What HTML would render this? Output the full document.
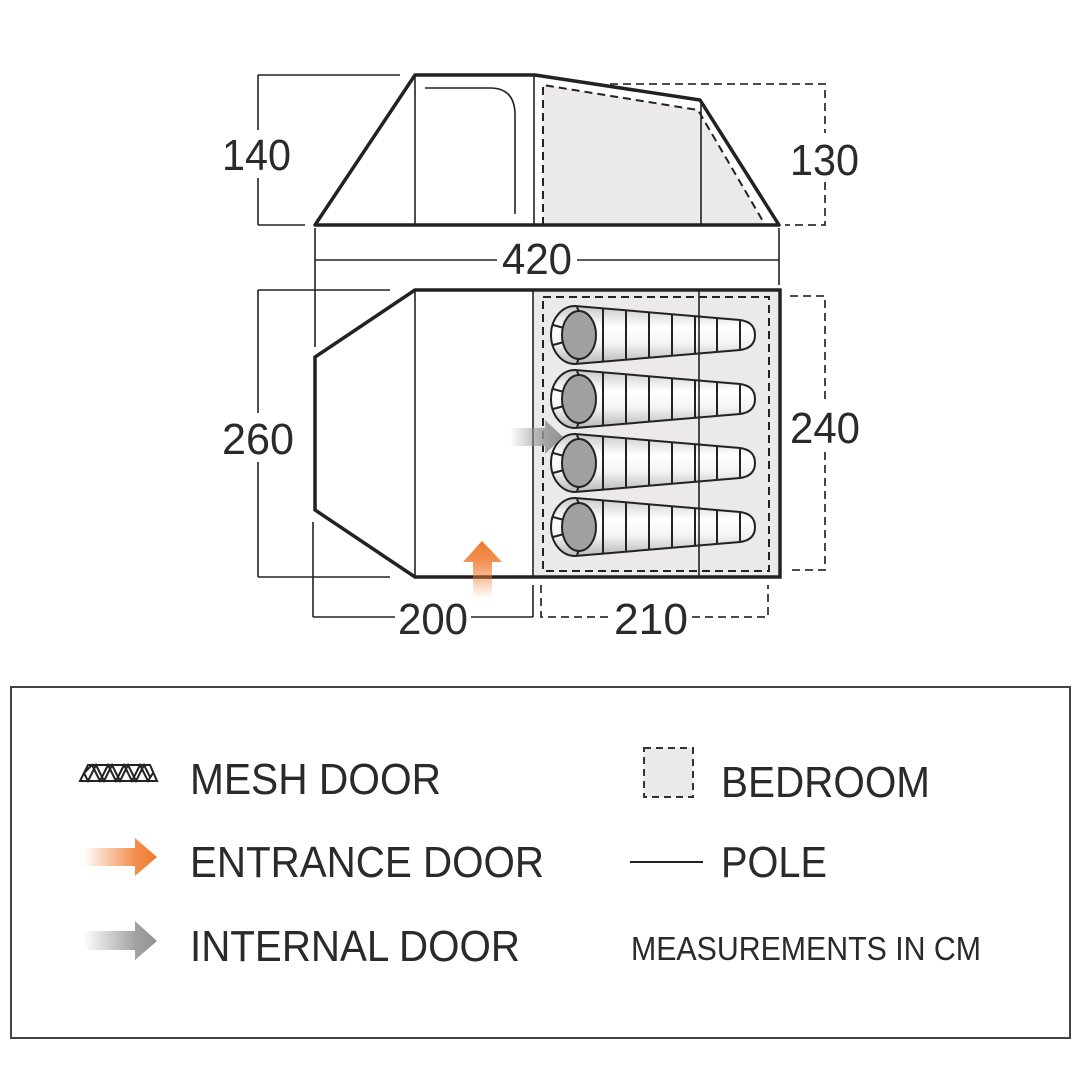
<!DOCTYPE html>
<html><head><meta charset="utf-8"><style>
html,body{margin:0;padding:0;background:#fff;width:1080px;height:1080px;overflow:hidden}
svg text{font-family:"Liberation Sans",sans-serif;fill:#2a2a2a}
</style></head><body>
<svg width="1080" height="1080" viewBox="0 0 1080 1080" xmlns="http://www.w3.org/2000/svg">
<defs>
<linearGradient id="bag" x1="0" y1="0" x2="0" y2="1">
<stop offset="0" stop-color="#c8c8c8"/><stop offset="0.35" stop-color="#fff"/><stop offset="0.65" stop-color="#f4f4f4"/><stop offset="1" stop-color="#b8b8b8"/></linearGradient>
<linearGradient id="orU" x1="0" y1="1" x2="0" y2="0">
<stop offset="0" stop-color="#f07a30" stop-opacity="0"/><stop offset="0.6" stop-color="#f07a30" stop-opacity="0.8"/><stop offset="1" stop-color="#ef7a2e"/></linearGradient>
<linearGradient id="orR" x1="0" y1="0" x2="1" y2="0">
<stop offset="0" stop-color="#f07a30" stop-opacity="0"/><stop offset="0.7" stop-color="#f07a30" stop-opacity="0.85"/><stop offset="1" stop-color="#ef7a2e"/></linearGradient>
<linearGradient id="grR" x1="0" y1="0" x2="1" y2="0">
<stop offset="0" stop-color="#999" stop-opacity="0"/><stop offset="0.7" stop-color="#999" stop-opacity="0.9"/><stop offset="1" stop-color="#909090"/></linearGradient>
<g id="sb">
<path d="M575,-29 L740,-15 Q755,-13 755,0 Q755,13 740,15 L575,29 A24,29 0 0 1 575,-29 Z" fill="url(#bag)" stroke="#222" stroke-width="2"/>
<g stroke="#222" stroke-width="2">
<line x1="603" y1="-26.5" x2="603" y2="26.5"/><line x1="626" y1="-24.5" x2="626" y2="24.5"/>
<line x1="649" y1="-22.5" x2="649" y2="22.5"/><line x1="672" y1="-20.7" x2="672" y2="20.7"/>
<line x1="695" y1="-18.8" x2="695" y2="18.8"/><line x1="717" y1="-17" x2="717" y2="17"/>
<line x1="740" y1="-15" x2="740" y2="15"/>
<line x1="577" y1="-28" x2="579" y2="-23"/><line x1="577" y1="28" x2="579" y2="23"/>
<line x1="553" y1="-10" x2="564" y2="-7"/><line x1="553" y1="10" x2="564" y2="7"/>
</g>
<ellipse cx="579" cy="0" rx="17" ry="24" fill="#a0a0a0" stroke="#222" stroke-width="2"/>
</g>
</defs>

<polygon points="543,85 698,110 765,225 543,225" fill="#ebe9e9"/>
<polyline points="543,225 543,85 698,110 764,223" fill="none" stroke="#222" stroke-width="2" stroke-dasharray="8,5"/>
<polygon points="315,225 415,75 535,75 700,100 779,225" fill="none" stroke="#222" stroke-width="3.5" stroke-linejoin="round"/>
<g stroke="#222" stroke-width="1.6" fill="none">
<line x1="415" y1="75" x2="415" y2="225"/>
<line x1="534" y1="75" x2="534" y2="225"/>
<line x1="701" y1="100" x2="701" y2="225"/>
<path d="M425,88 L490,88 Q515,88 515,115 L515,214"/>
<line x1="258" y1="75" x2="400" y2="75"/><line x1="258" y1="225" x2="305" y2="225"/>
<line x1="258" y1="75" x2="258" y2="130"/><line x1="258" y1="178" x2="258" y2="225"/>
<line x1="315" y1="228" x2="315" y2="347"/><line x1="779" y1="228" x2="779" y2="285"/>
<line x1="315" y1="260" x2="497" y2="260"/><line x1="577" y1="260" x2="779" y2="260"/>
<line x1="258" y1="290" x2="390" y2="290"/><line x1="258" y1="577" x2="390" y2="577"/>
<line x1="258" y1="290" x2="258" y2="413"/><line x1="258" y1="462" x2="258" y2="577"/>
<line x1="313" y1="522" x2="313" y2="617"/><line x1="313" y1="617" x2="395" y2="617"/>
<line x1="471" y1="617" x2="533" y2="617"/><line x1="533" y1="585" x2="533" y2="617"/>
</g>
<g stroke="#333" stroke-width="1.8" fill="none" stroke-dasharray="8,5">
<polyline points="610,84 825,84 825,133"/><polyline points="825,182 825,225 785,225"/>
<polyline points="790,296 825,296 825,402"/><polyline points="825,452 825,570 790,570"/>
<polyline points="541,585 541,617 610,617"/><polyline points="692,617 768,617 768,585"/>
</g>

<rect x="533" y="292" width="247" height="284" fill="#ebe9e9"/>
<rect x="543" y="297" width="226" height="274" fill="none" stroke="#222" stroke-width="2" stroke-dasharray="8,5"/>
<use href="#sb" y="335"/><use href="#sb" y="399"/><use href="#sb" y="463"/><use href="#sb" y="527"/>
<g stroke="#222" stroke-width="1.6">
<line x1="415" y1="290" x2="415" y2="577"/><line x1="533" y1="290" x2="533" y2="577"/>
<line x1="699" y1="290" x2="699" y2="577"/>
</g>
<polygon points="415,290 780,290 780,577 415,577 315,510 315,357" fill="none" stroke="#222" stroke-width="3.5"/>
<polygon points="482,541 502,562 492,562 492,598 473,598 473,562 463,562" fill="url(#orU)"/>
<polygon points="510,428 545,428 545,420 563,437 545,454 545,446 510,446" fill="url(#grR)"/>

<g font-size="44" style="fill:#333">
<text x="222" y="170" textLength="69" lengthAdjust="spacingAndGlyphs">140</text>
<text x="790" y="175" textLength="69" lengthAdjust="spacingAndGlyphs">130</text>
<text x="502" y="274" textLength="70" lengthAdjust="spacingAndGlyphs">420</text>
<text x="222" y="454" textLength="72" lengthAdjust="spacingAndGlyphs">260</text>
<text x="790" y="443" textLength="70" lengthAdjust="spacingAndGlyphs">240</text>
<text x="398" y="634" textLength="70" lengthAdjust="spacingAndGlyphs">200</text>
<text x="614" y="634" textLength="74" lengthAdjust="spacingAndGlyphs">210</text>
</g>

<rect x="11" y="687" width="1059" height="351" fill="none" stroke="#444" stroke-width="2"/>
<g stroke="#222" stroke-width="2" fill="none">
<polygon points="80,781 157,781 150,765 88,765"/>
<polyline points="84,773 92,765 100,781 108,765 116,781 124,765 132,781 140,765 148,781 153,773"/>
<polyline points="84,773 88,781 96,765 104,781 112,765 120,781 128,765 136,781 144,765 150,777"/>
</g>
<polygon points="83,848 135,848 135,838 157,857 135,876 135,866 83,866" fill="url(#orR)"/>
<polygon points="83,931 135,931 135,921 157,941 135,960 135,950 83,950" fill="url(#grR)"/>
<rect x="644" y="748" width="49" height="49" fill="#ebe9e9" stroke="#333" stroke-width="2" stroke-dasharray="7,5"/>
<line x1="630" y1="862" x2="703" y2="862" stroke="#222" stroke-width="2"/>
<g font-size="44">
<text x="190" y="794" textLength="251" lengthAdjust="spacingAndGlyphs">MESH DOOR</text>
<text x="190" y="877" textLength="354" lengthAdjust="spacingAndGlyphs">ENTRANCE DOOR</text>
<text x="190" y="961" textLength="330" lengthAdjust="spacingAndGlyphs">INTERNAL DOOR</text>
<text x="721" y="797" textLength="209" lengthAdjust="spacingAndGlyphs">BEDROOM</text>
<text x="721" y="877" textLength="106" lengthAdjust="spacingAndGlyphs">POLE</text>
</g>
<text x="631" y="960" font-size="33" textLength="350" lengthAdjust="spacingAndGlyphs">MEASUREMENTS IN CM</text>
</svg>
</body></html>
